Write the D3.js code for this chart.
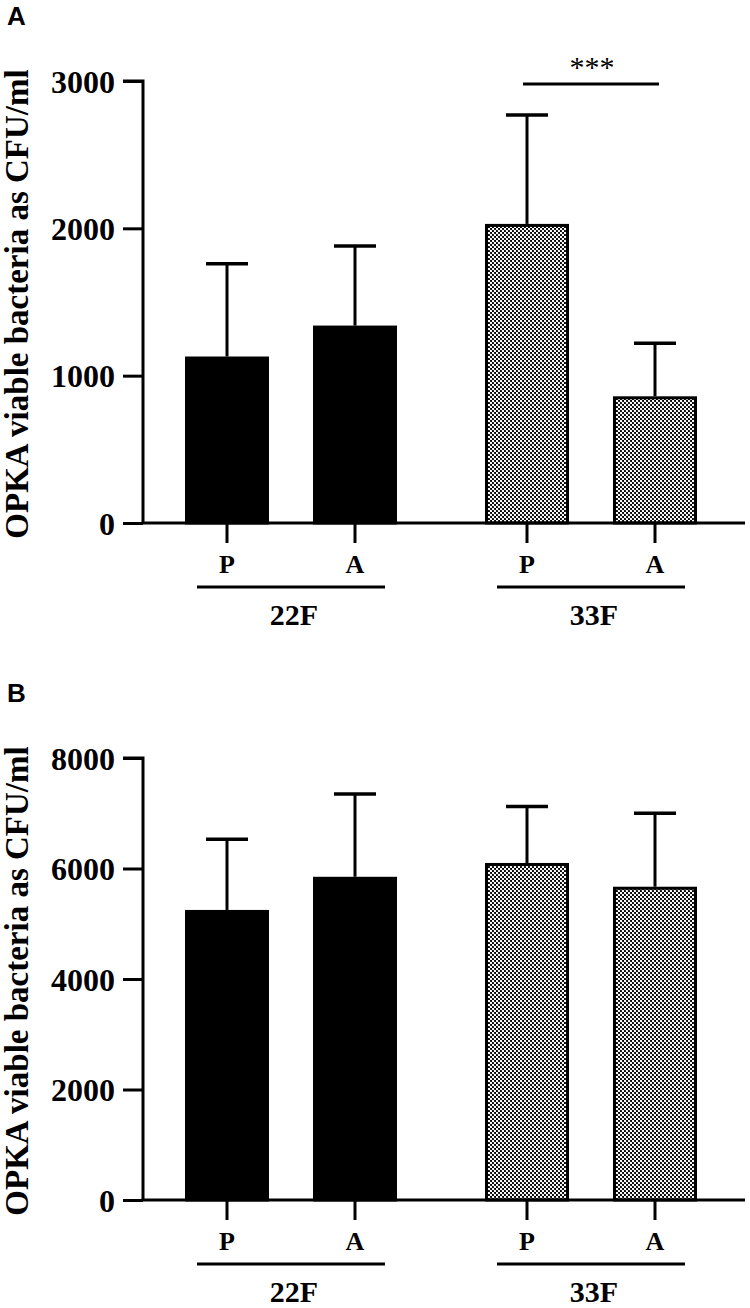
<!DOCTYPE html>
<html>
<head>
<meta charset="utf-8">
<script src="https://cdn.jsdelivr.net/npm/d3@7"></script>
<style>
  body { margin: 0; background: #fff; }
  text { font-family: "Liberation Serif", "Times New Roman", serif; font-weight: bold; fill: #000; }
</style>
</head>
<body>
<div id="chart"></div>
<script>
// data
const groups = ["22F", "33F"];
const conditions = ["P", "A"];
const meanA = [1130, 1340, 2030, 860];
const sdA = [630, 540, 740, 360];
const meanB = [5250, 5850, 6100, 5670];
const sdB = [1280, 1500, 1020, 1330];
const ticksA = [0, 1000, 2000, 3000];
const ticksB = [0, 2000, 4000, 6000, 8000];
const yLabel = "OPKA viable bacteria as CFU/ml";

const svg = d3.select("#chart").append("svg")
  .attr("width", 750)
  .attr("height", 1308);

// checker fill for the 33F bars: white dots on black
const pat = svg.append("defs").append("pattern")
  .attr("id", "checker")
  .attr("patternUnits", "userSpaceOnUse")
  .attr("width", 4)
  .attr("height", 4);
pat.append("rect").attr("width", 4).attr("height", 4).attr("fill", "#000");
pat.append("circle").attr("cx", 1).attr("cy", 1).attr("r", 1.2).attr("fill", "#fff");
pat.append("circle").attr("cx", 3).attr("cy", 3).attr("r", 1.2).attr("fill", "#fff");

const xGroup = d3.scalePoint().domain(groups).range([291, 591]);
const xCond = d3.scalePoint().domain(conditions).range([-64, 64]);
const barW = 84;

function drawPanel(letter, top, means, sds, ticks, yMax, sig) {
  const y0 = top + 442;  // zero line
  const y = d3.scaleLinear().domain([0, yMax]).range([y0, top]);
  const g = svg.append("g");

  const rows = [];
  groups.forEach((gr, gi) => conditions.forEach((c, ci) => {
    const i = gi * 2 + ci;
    rows.push({ group: gr, cond: c, mean: means[i], sd: sds[i], x: xGroup(gr) + xCond(c) });
  }));

  // error bars (upper only)
  rows.forEach(d => {
    g.append("line")
      .attr("x1", d.x).attr("x2", d.x)
      .attr("y1", y(d.mean)).attr("y2", y(d.mean + d.sd))
      .attr("stroke", "#000").attr("stroke-width", 3);
    g.append("line")
      .attr("x1", d.x - barW / 4).attr("x2", d.x + barW / 4)
      .attr("y1", y(d.mean + d.sd)).attr("y2", y(d.mean + d.sd))
      .attr("stroke", "#000").attr("stroke-width", 3.5);
  });

  // bars
  g.selectAll("rect.bar").data(rows).enter().append("rect")
    .attr("class", "bar")
    .attr("x", d => d.x - barW / 2 + 1.5)
    .attr("y", d => y(d.mean) + 1.5)
    .attr("width", barW - 3)
    .attr("height", d => y(0) - y(d.mean) - 1.5)
    .attr("fill", d => d.group == "22F" ? "#000" : "url(#checker)")
    .attr("stroke", "#000")
    .attr("stroke-width", 3);

  // y axis
  const yAxis = g.append("g")
    .attr("transform", "translate(143,0)")
    .call(d3.axisLeft(y).tickValues(ticks).tickSize(20).tickPadding(8).tickFormat(d3.format("d")));
  yAxis.select(".domain").attr("stroke-width", 3).attr("d", `M-20,${y(yMax)}H0V${y0}`);
  yAxis.selectAll(".tick line").attr("stroke-width", 3);
  yAxis.selectAll(".tick text")
    .style("font-size", "32px")
    .attr("dy", "0.35em");

  // x axis line
  g.append("line")
    .attr("x1", 141.5).attr("x2", 745)
    .attr("y1", y0).attr("y2", y0)
    .attr("stroke", "#000").attr("stroke-width", 3);

  rows.forEach(d => {
    g.append("line")
      .attr("x1", d.x).attr("x2", d.x)
      .attr("y1", y0).attr("y2", y0 + 20)
      .attr("stroke", "#000").attr("stroke-width", 3);
    g.append("text")
      .attr("x", d.x).attr("y", y0 + 50)
      .attr("text-anchor", "middle")
      .style("font-size", "26px")
      .text(d.cond);
  });

  groups.forEach(gr => {
    const c = xGroup(gr);
    g.append("line")
      .attr("x1", c - 94).attr("x2", c + 94)
      .attr("y1", y0 + 64).attr("y2", y0 + 64)
      .attr("stroke", "#000").attr("stroke-width", 3);
    g.append("text")
      .attr("x", c + 3).attr("y", y0 + 102)
      .attr("text-anchor", "middle")
      .style("font-size", "30px")
      .text(gr);
  });

  // y label
  g.append("text")
    .attr("transform", `translate(28,${(top + y0) / 2 + 2}) rotate(-90)`)
    .attr("text-anchor", "middle")
    .style("font-size", "33px")
    .text(yLabel);

  // panel letter
  g.append("text")
    .attr("x", 7).attr("y", top - 56)
    .style("font-family", "'Liberation Sans', Arial, sans-serif")
    .style("font-size", "26px")
    .text(letter);

  if (sig) {
    const xa = xGroup(sig.group) + xCond("P") - 4;
    const xb = xGroup(sig.group) + xCond("A") + 4;
    g.append("line")
      .attr("x1", xa).attr("x2", xb)
      .attr("y1", top + 3).attr("y2", top + 3)
      .attr("stroke", "#000").attr("stroke-width", 3);
    g.append("text")
      .attr("x", (xa + xb) / 2 + 1).attr("y", top - 4)
      .attr("text-anchor", "middle")
      .style("font-weight", "normal")
      .style("font-size", "30px")
      .text(sig.text);
  }
}

drawPanel("A", 81, meanA, sdA, ticksA, 3000, { group: "33F", text: "***" });
drawPanel("B", 758, meanB, sdB, ticksB, 8000, null);
</script>
</body>
</html>
